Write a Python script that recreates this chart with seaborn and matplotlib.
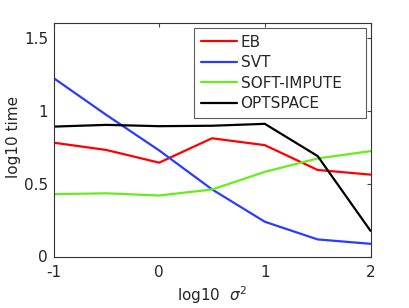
import pandas as pd
import seaborn as sns
import matplotlib.pyplot as plt

log_sigma2 = [-1, -0.5, 0, 0.5, 1, 1.5, 2]
eb = [0.78, 0.73, 0.643, 0.81, 0.763, 0.593, 0.561]
svt = [1.223, 0.97, 0.727, 0.46, 0.238, 0.117, 0.087]
soft_impute = [0.427, 0.433, 0.418, 0.459, 0.58, 0.672, 0.722]
optspace = [0.89, 0.902, 0.893, 0.896, 0.909, 0.688, 0.176]

methods = ["EB", "SVT", "SOFT-IMPUTE", "OPTSPACE"]
colors = ["#ff0000", "#2a3cff", "#66ee1a", "#000000"]

rows = []
for name, vals in zip(methods, [eb, svt, soft_impute, optspace]):
    for x, y in zip(log_sigma2, vals):
        rows.append({"sigma": x, "time": y, "method": name})
df = pd.DataFrame(rows)

sns.set_style("white")
plt.rcParams['font.family'] = ['DejaVu Sans']

fig = plt.figure(figsize=(4.09, 3.08), dpi=100)
ax = fig.add_axes([53.5 / 409, 1 - 256.5 / 308, 317 / 409, 233.5 / 308])
sns.lineplot(data=df, x="sigma", y="time", hue="method", hue_order=methods,
             palette=colors, linewidth=1.6, ax=ax)

ax.set_xlim(-1, 2)
ax.set_ylim(0, 1.6)
ax.set_xticks([-1, 0, 1, 2])
ax.set_xticklabels(["-1", "0", "1", "2"])
ax.set_yticks([0, 0.5, 1, 1.5])
ax.set_yticklabels(["0", "0.5", "1", "1.5"])
ax.tick_params(direction="in", length=3, labelsize=11, top=True, right=True,
               color="#444444")
ax.tick_params(axis="x", pad=6)
ax.tick_params(axis="y", pad=4)
for s in ax.spines.values():
    s.set_color("#333333")
    s.set_linewidth(0.8)
ax.set_xlabel(r"log10  $\sigma^2$", fontsize=11, labelpad=3)
ax.set_ylabel("log10 time", fontsize=11)
ax.yaxis.set_label_coords(-0.1025, 0.51)

# legend box spans roughly x 194-366 px, y 28-115 px
leg = ax.legend(loc="upper left", bbox_to_anchor=(0.443, 0.606, 0.543, 0.373),
                mode="expand", borderaxespad=0, fontsize=11, frameon=True,
                fancybox=False, borderpad=0.45, handlelength=2.35,
                handletextpad=0.25, labelspacing=0.36)
leg.get_frame().set_edgecolor("#333333")
leg.get_frame().set_linewidth(0.8)
leg.set_title(None)

fig.savefig("out.png", dpi=100)
